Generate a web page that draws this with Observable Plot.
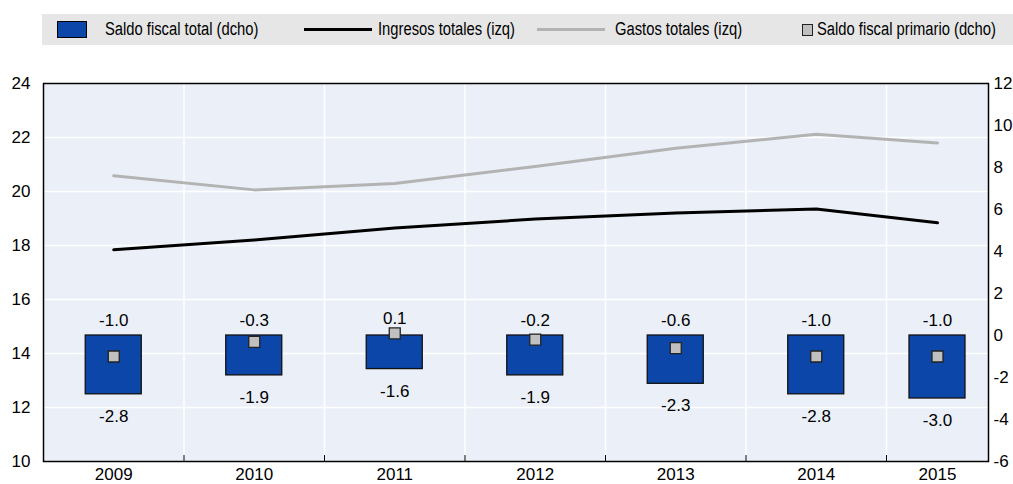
<!DOCTYPE html>
<html><head><meta charset="utf-8">
<script src="https://cdn.jsdelivr.net/npm/d3@7"></script>
<script src="https://cdn.jsdelivr.net/npm/@observablehq/plot@0.6"></script>
<style>
body{margin:0;background:#fff;font-family:"Liberation Sans",Arial,sans-serif;}
#wrap{position:relative;width:1013px;height:484px;overflow:hidden;}
#legend{position:absolute;left:42px;top:14px;width:971px;height:31px;background:#e6e6e6;font-family:"Liberation Sans",Arial,sans-serif;font-size:18px;color:#000;}
.sw{position:absolute;box-sizing:border-box;}
.lt{position:absolute;top:0;line-height:31px;white-space:nowrap;transform:scaleX(0.82);transform-origin:0 50%;}
#chart{position:absolute;left:0;top:50px;}
</style></head>
<body><div id="wrap"><div id="legend"></div><div id="chart"></div></div>
<script>
const years = [2009, 2010, 2011, 2012, 2013, 2014, 2015];
const ingresosTotales = [17.84, 18.2, 18.65, 18.98, 19.2, 19.35, 18.84];
const gastosTotales = [20.58, 20.06, 20.3, 20.93, 21.6, 22.12, 21.8];
const saldoFiscalTotal = [-2.8, -1.9, -1.6, -1.9, -2.3, -2.8, -3.0];
const saldoFiscalPrimario = [-1.0, -0.3, 0.1, -0.2, -0.6, -1.0, -1.0];
const leftTicks = [10, 12, 14, 16, 18, 20, 22, 24];
const rightTicks = [-6, -4, -2, 0, 2, 4, 6, 8, 10, 12];
const legendLabels = ["Saldo fiscal total (dcho)", "Ingresos totales (izq)", "Gastos totales (izq)", "Saldo fiscal primario (dcho)"];

const BLUE = "#0b46a8", GREY = "#b3b3b3", SQ = "#c0c0c0";
// right axis [-6,12] aligned to left axis [10,24]
const toLeft = r => 10 + (r + 6) * 14 / 18;
const fromLeft = l => Math.round((l - 10) * 18 / 14 - 6);

const table = years.map((y, i) => ({
  year: y, ingresos: ingresosTotales[i], gastos: gastosTotales[i],
  total: saldoFiscalTotal[i], primario: saldoFiscalPrimario[i]
}));
const boundaries = years.slice(0, -1).map(y => y + 0.5);
const gridY = leftTicks.slice(1, -1);

const W = 1013, H = 434, mL = 43, mR = 25, mT = 33, mB = 23;

const chart = Plot.plot({
  width: W, height: H,
  marginLeft: mL, marginRight: mR, marginTop: mT, marginBottom: mB,
  style: {fontFamily: "'Liberation Sans', Arial, sans-serif", fontSize: "17px", color: "#000", background: "transparent", overflow: "visible"},
  x: {type: "linear", domain: [2008.5, 2014.5, 2015.5], range: [mL, 886, W - mR], axis: null, label: null},
  y: {domain: [10, 24], axis: null, label: null},
  marks: [
    Plot.frame({fill: "#eaeff8", stroke: null}),
    Plot.ruleY(gridY, {stroke: "#fff", strokeWidth: 1.5}),
    Plot.ruleX(boundaries, {stroke: "#fff", strokeWidth: 1.5}),
    Plot.rect(table, {x1: "year", x2: "year", y1: () => toLeft(0), y2: d => toLeft(d.total),
      insetLeft: -28, insetRight: -28, fill: BLUE, stroke: "#111", strokeWidth: 1.3}),
    Plot.line(table, {x: "year", y: "gastos", stroke: GREY, strokeWidth: 3}),
    Plot.line(table, {x: "year", y: "ingresos", stroke: "#000", strokeWidth: 3}),
    Plot.dot(table, {x: "year", y: d => toLeft(d.primario), symbol: "square", r: 6.2,
      fill: SQ, stroke: "#222", strokeWidth: 1.3}),
    Plot.text(table, {x: "year", y: d => toLeft(Math.max(0, d.primario)), text: d => d.primario.toFixed(1),
      dy: -15, fontSize: 17, fill: "#000"}),
    Plot.text(table, {x: "year", y: d => toLeft(d.total), text: d => d.total.toFixed(1),
      dy: 22, fontSize: 17, fill: "#000"}),
    Plot.axisY(leftTicks, {anchor: "left", tickSize: 0, tickPadding: 13, fontSize: 17, label: null, tickFormat: d => String(d)}),
    Plot.axisY(rightTicks.map(toLeft), {anchor: "right", tickSize: 0, tickPadding: 5, fontSize: 17, label: null, tickFormat: v => String(fromLeft(v))}),
    Plot.axisX(years, {anchor: "bottom", tickSize: 0, tickPadding: 6, fontSize: 17, label: null, tickFormat: d => String(d)}),
    Plot.ruleX(boundaries, {y1: 10, y2: 10.22, stroke: "#000", strokeWidth: 1}),
    Plot.frame({stroke: "#000", strokeWidth: 1.5})
  ]
});
document.getElementById("chart").appendChild(chart);

// legend
const lg = document.getElementById("legend");
function add(html) { lg.insertAdjacentHTML("beforeend", html); }
add(`<div class="sw" style="left:15px;top:7px;width:30px;height:17px;background:${BLUE};border:1px solid #000"></div>`);
add(`<div class="lt" style="left:63px">${legendLabels[0]}</div>`);
add(`<div class="sw" style="left:262px;top:14px;width:68px;height:3px;background:#000"></div>`);
add(`<div class="lt" style="left:336px">${legendLabels[1]}</div>`);
add(`<div class="sw" style="left:495px;top:14px;width:68px;height:3px;background:${GREY}"></div>`);
add(`<div class="lt" style="left:573px">${legendLabels[2]}</div>`);
add(`<div class="sw" style="left:760px;top:10px;width:11px;height:12px;background:${SQ};border:1px solid #222"></div>`);
add(`<div class="lt" style="left:775px">${legendLabels[3]}</div>`);
</script>
</body></html>
